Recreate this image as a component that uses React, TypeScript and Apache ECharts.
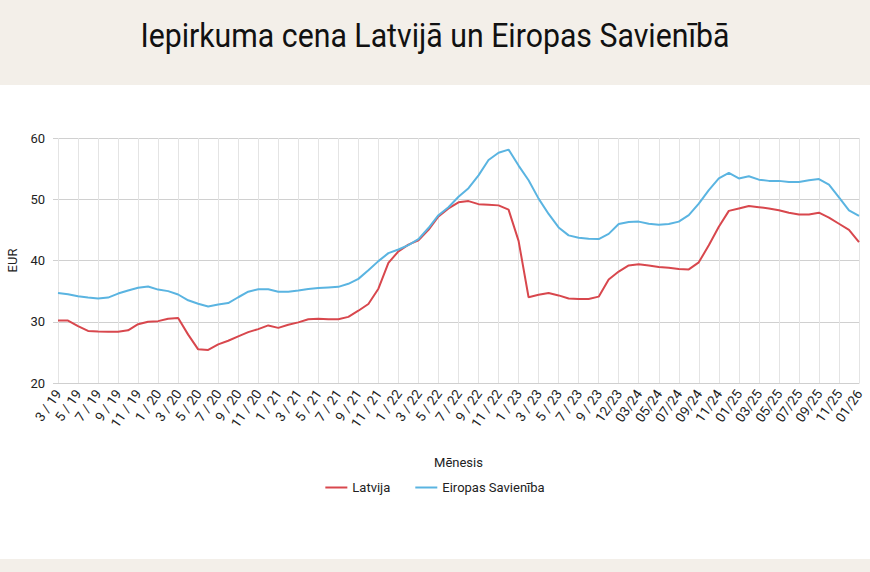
import { useEffect, useRef } from "react";
import * as echarts from "echarts";

const TITLE = "Iepirkuma cena Latvijā un Eiropas Savienībā";

// one category per data point; every other one carries a label
const MONTHS = [
  "3 / 19", "4 / 19", "5 / 19", "6 / 19", "7 / 19", "8 / 19", "9 / 19", "10 / 19", "11 / 19", "12 / 19",
  "1 / 20", "2 / 20", "3 / 20", "4 / 20", "5 / 20", "6 / 20", "7 / 20", "8 / 20", "9 / 20", "10 / 20",
  "11 / 20", "12 / 20", "1 / 21", "2 / 21", "3 / 21", "4 / 21", "5 / 21", "6 / 21", "7 / 21", "8 / 21",
  "9 / 21", "10 / 21", "11 / 21", "12 / 21", "1 / 22", "2 / 22", "3 / 22", "4 / 22", "5 / 22", "6 / 22",
  "7 / 22", "8 / 22", "9 / 22", "10 / 22", "11 / 22", "12 / 22", "1 / 23", "2 / 23", "3 / 23", "4 / 23",
  "5 / 23", "6 / 23", "7 / 23", "8 / 23", "9 / 23", "10/23", "12/23", "01/24", "03/24", "04/24",
  "05/24", "06/24", "07/24", "08/24", "09/24", "10/24", "11/24", "12/24", "01/25", "02/25",
  "03/25", "04/25", "05/25", "06/25", "07/25", "08/25", "09/25", "10/25", "11/25", "12/25",
  "01/26",
];

const LATVIJA = [
  30.2, 30.2, 29.3, 28.5, 28.4, 28.35, 28.35, 28.6, 29.6, 30.0,
  30.1, 30.5, 30.6, 27.9, 25.5, 25.4, 26.3, 26.9, 27.6, 28.3,
  28.8, 29.4, 29.0, 29.5, 29.9, 30.4, 30.5, 30.4, 30.4, 30.8,
  31.8, 32.9, 35.4, 39.6, 41.5, 42.6, 43.3, 45.0, 47.2, 48.5,
  49.5, 49.7, 49.2, 49.1, 49.0, 48.3, 43.2, 34.0, 34.4, 34.7,
  34.3, 33.8, 33.7, 33.7, 34.1, 36.9, 38.2, 39.2, 39.4, 39.2,
  38.95, 38.8, 38.6, 38.55, 39.7, 42.5, 45.5, 48.1, 48.5, 48.9,
  48.7, 48.5, 48.2, 47.8, 47.5, 47.5, 47.8, 47.0, 46.0, 45.0,
  43.0,
];

const EU = [
  34.7, 34.5, 34.15, 33.95, 33.8, 33.95, 34.6, 35.1, 35.55, 35.75,
  35.25, 35.0, 34.45, 33.5, 32.95, 32.5, 32.8, 33.05, 34.0, 34.9,
  35.3, 35.3, 34.9, 34.9, 35.1, 35.35, 35.5, 35.6, 35.7, 36.2,
  37.0, 38.4, 39.9, 41.2, 41.8, 42.5, 43.5, 45.3, 47.4, 48.7,
  50.4, 51.8, 53.9, 56.4, 57.6, 58.1, 55.5, 53.1, 50.1, 47.6,
  45.4, 44.1, 43.7, 43.55, 43.5, 44.35, 45.95, 46.3, 46.35, 46.0,
  45.85, 45.95, 46.35, 47.4, 49.3, 51.5, 53.4, 54.3, 53.4, 53.75,
  53.2, 53.0, 53.0, 52.8, 52.8, 53.1, 53.3, 52.4, 50.3, 48.2,
  47.3,
];

const Y_MIN = 20;
const Y_MAX = 60;
const Y_STEP = 10;

const RED = "#d8474d";
const BLUE = "#5ab4e1";
const BEIGE = "#f3efe9";
const FONT = "Roboto, 'Noto Sans', sans-serif";

const everyOther = (idx: number) => idx % 2 === 0;

export default function App() {
  const chartRef = useRef<HTMLDivElement>(null);

  useEffect(() => {
    if (!chartRef.current) return;
    const chart = echarts.init(chartRef.current, undefined, { renderer: "svg" });

    chart.setOption({
      animation: false,
      textStyle: { fontFamily: FONT },
      grid: { left: 58, right: 11, top: 53, bottom: 176, containLabel: false, outerBoundsMode: "none" },
      legend: {
        bottom: 60,
        left: "center",
        icon: "rect",
        itemWidth: 22,
        itemHeight: 2,
        itemGap: 25,
        textStyle: { fontSize: 13, color: "#222", fontFamily: FONT },
        data: ["Latvija", "Eiropas Savienība"],
      },
      xAxis: [
        {
          type: "category",
          data: MONTHS,
          boundaryGap: false,
          name: "Mēnesis",
          nameLocation: "middle",
          nameGap: 73,
          nameTextStyle: { fontSize: 13, color: "#222", fontFamily: FONT },
          axisLine: { show: true, lineStyle: { color: "#cfcfcf" } },
          axisTick: { show: false },
          axisLabel: {
            interval: everyOther,
            rotate: 55,
            margin: 8,
            fontSize: 13.5,
            color: "#222",
            fontFamily: FONT,
          },
          splitLine: { show: false },
        },
        {
          // helper axis only for the vertical grid lines at the labelled months
          type: "value",
          min: 0,
          max: MONTHS.length - 1,
          interval: 2,
          axisLine: { show: false },
          axisTick: { show: false },
          axisLabel: { show: false },
          splitLine: { show: true, lineStyle: { color: "#e4e4e4", width: 1 } },
        },
      ],
      yAxis: {
        type: "value",
        min: Y_MIN,
        max: Y_MAX,
        interval: Y_STEP,
        name: "EUR",
        nameLocation: "middle",
        nameRotate: 90,
        nameGap: 39,
        nameTextStyle: { fontSize: 13, color: "#222", fontFamily: FONT },
        axisLine: { show: false },
        axisTick: { show: true, length: 5, lineStyle: { color: "#d0d0d0" } },
        axisLabel: { fontSize: 13, color: "#222", margin: 13, fontFamily: FONT },
        splitLine: { lineStyle: { color: "#d0d0d0", width: 1 } },
      },
      series: [
        {
          name: "Latvija",
          type: "line",
          xAxisIndex: 0,
          data: LATVIJA,
          symbol: "none",
          color: RED,
          lineStyle: { width: 2, color: RED },
        },
        {
          name: "Eiropas Savienība",
          type: "line",
          xAxisIndex: 0,
          data: EU,
          symbol: "none",
          color: BLUE,
          lineStyle: { width: 2, color: BLUE },
        },
      ],
    });

    return () => chart.dispose();
  }, []);

  return (
    <div style={{
      position: "fixed",
      left: 0,
      top: 0,
      width: "870px",
      height: "572px",
      backgroundColor: "#fff",
      overflow: "hidden",
    }}>
      <div style={{
        height: "85px",
        backgroundColor: BEIGE,
        display: "flex",
        alignItems: "center",
        justifyContent: "center",
      }}>
        <span style={{
          display: "inline-block",
          fontFamily: FONT,
          fontSize: "34px",
          color: "#111",
          transform: "scaleX(0.89)",
          whiteSpace: "nowrap",
          marginTop: "-16px",
        }}>
          {TITLE}
        </span>
      </div>
      <div ref={chartRef} style={{ width: "870px", height: "474px" }} />
      <div style={{ height: "13px", backgroundColor: BEIGE }} />
    </div>
  );
}
